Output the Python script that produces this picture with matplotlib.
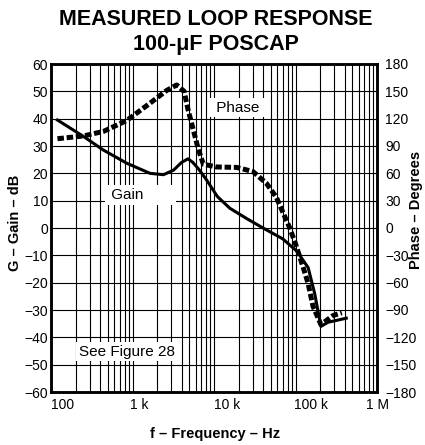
import matplotlib
matplotlib.use("Agg")
import matplotlib.pyplot as plt
from matplotlib.ticker import FixedLocator, NullFormatter

plt.rcParams['font.family'] = ['Liberation Sans', 'DejaVu Sans']

# ---- data ----
gain_freq = [120, 250, 440, 850, 1640, 2400, 3200, 4000, 4800, 5500, 6500, 8100,
             11000, 15700, 25000, 40000, 70000, 104000, 143000, 172000, 205000,
             250000, 420000]
gain_db = [39.5, 33.5, 28.5, 23.7, 20.0, 19.5, 21.2, 24.0, 25.3, 24.0, 21.5, 17.6,
           11.5, 7.2, 3.5, 0.0, -4.0, -8.5, -14.5, -24.0, -36.0, -34.5, -33.0]

phase_freq = [120, 250, 440, 850, 1640, 2630, 3480, 4300, 4800, 5560, 6440, 7400,
              10750, 19000, 30000, 44000, 58000, 71000, 85000, 98000, 124000,
              143000, 164000, 205000, 290000, 370000]
phase_deg = [98, 101, 106, 118, 137, 151, 157, 150, 130, 108, 86, 70,
             67, 66.5, 62, 49, 34, 16, 0, -15, -43,
             -61, -86, -106, -96, -93]

x_ticks = [100, 1000, 10000, 100000, 1000000]
x_ticklabels = ["100", "1 k", "10 k", "100 k", "1 M"]
x_label_shift_px = [12, 7, 13, 15, 0]   # labels sit slightly right of their grid lines
gain_ticks = list(range(-60, 61, 10))
phase_ticks = list(range(-180, 181, 30))

title_lines = ["MEASURED LOOP RESPONSE", "100-\u03bcF POSCAP"]

# ---- figure ----
fig = plt.figure(figsize=(4.25, 4.45), dpi=100)
ax = fig.add_axes([51/425, 1-392/445, 326/425, 328/445])
ax2 = ax.twinx()

ax.set_xscale('log')
ax.set_xlim(100, 1e6)
ax.set_ylim(-60, 60)
ax2.set_ylim(-180, 180)

# grid: every log minor/major line, every 10 dB
minor = [m * 10**e for e in range(2, 6) for m in range(2, 10)]
ax.xaxis.set_major_locator(FixedLocator(x_ticks))
ax.xaxis.set_minor_locator(FixedLocator(minor))
ax.xaxis.set_minor_formatter(NullFormatter())
ax.set_xticklabels([])
ax.set_yticks(gain_ticks)
ax.set_yticklabels([f"{v}".replace("-", "\u2212") for v in gain_ticks])
ax2.set_yticks(phase_ticks)
ax2.set_yticklabels([f"{v}".replace("-", "\u2212") for v in phase_ticks])

for xt, lab, dx in zip(x_ticks, x_ticklabels, x_label_shift_px):
    ax.annotate(lab, xy=(xt, 0), xycoords=('data', 'axes fraction'),
                xytext=(dx * 0.72, -4), textcoords='offset points',
                ha='center', va='top', fontsize=10, annotation_clip=False)

ax.grid(True, which='both', axis='x', color='black', lw=0.8)
ax.grid(True, which='major', axis='y', color='black', lw=0.8)
ax.set_axisbelow(True)

for a in (ax, ax2):
    a.tick_params(which='both', length=0, labelsize=10, colors='black')
    for s in a.spines.values():
        s.set_linewidth(1.8)
        s.set_color('black')
ax.tick_params(axis='y', pad=2)
ax2.tick_params(axis='y', pad=6)

ax.plot(gain_freq, gain_db, color='black', lw=2.2, solid_joinstyle='round', zorder=3)
ax2.plot(phase_freq, phase_deg, color='black', lw=3.6,
         linestyle=(0, (1.3, 0.55)), dash_capstyle='butt', zorder=3)

box = dict(facecolor='white', edgecolor='none', pad=2)
ax.text(19500, 44, " Phase ", fontsize=11, ha='center', va='center', bbox=box, zorder=4)
ax.text(490, 12, " Gain       ", fontsize=11, ha='left', va='center', bbox=box, zorder=4)
ax.text(850, -45.2, "See Figure 28", fontsize=11, ha='center', va='center', bbox=box, zorder=4)

# titles and axis labels
fig.text(216/425, 1-25/445, title_lines[0], fontsize=15.5, fontweight='bold',
         ha='center', va='baseline')
fig.text(216/425, 1-50/445, title_lines[1], fontsize=15.5, fontweight='bold',
         ha='center', va='baseline')
fig.text(215/425, 1-438/445, "f \u2013 Frequency \u2013 Hz", fontsize=10.5,
         fontweight='bold', ha='center', va='baseline')
fig.text(15.5/425, 1-223/445, "G \u2013 Gain \u2013 dB", fontsize=10.5,
         fontweight='bold', ha='center', va='center', rotation=90)
fig.text(416/425, 1-210/445, "Phase \u2013 Degrees", fontsize=10.5,
         fontweight='bold', ha='center', va='center', rotation=90)

fig.savefig("out.png", dpi=100)
